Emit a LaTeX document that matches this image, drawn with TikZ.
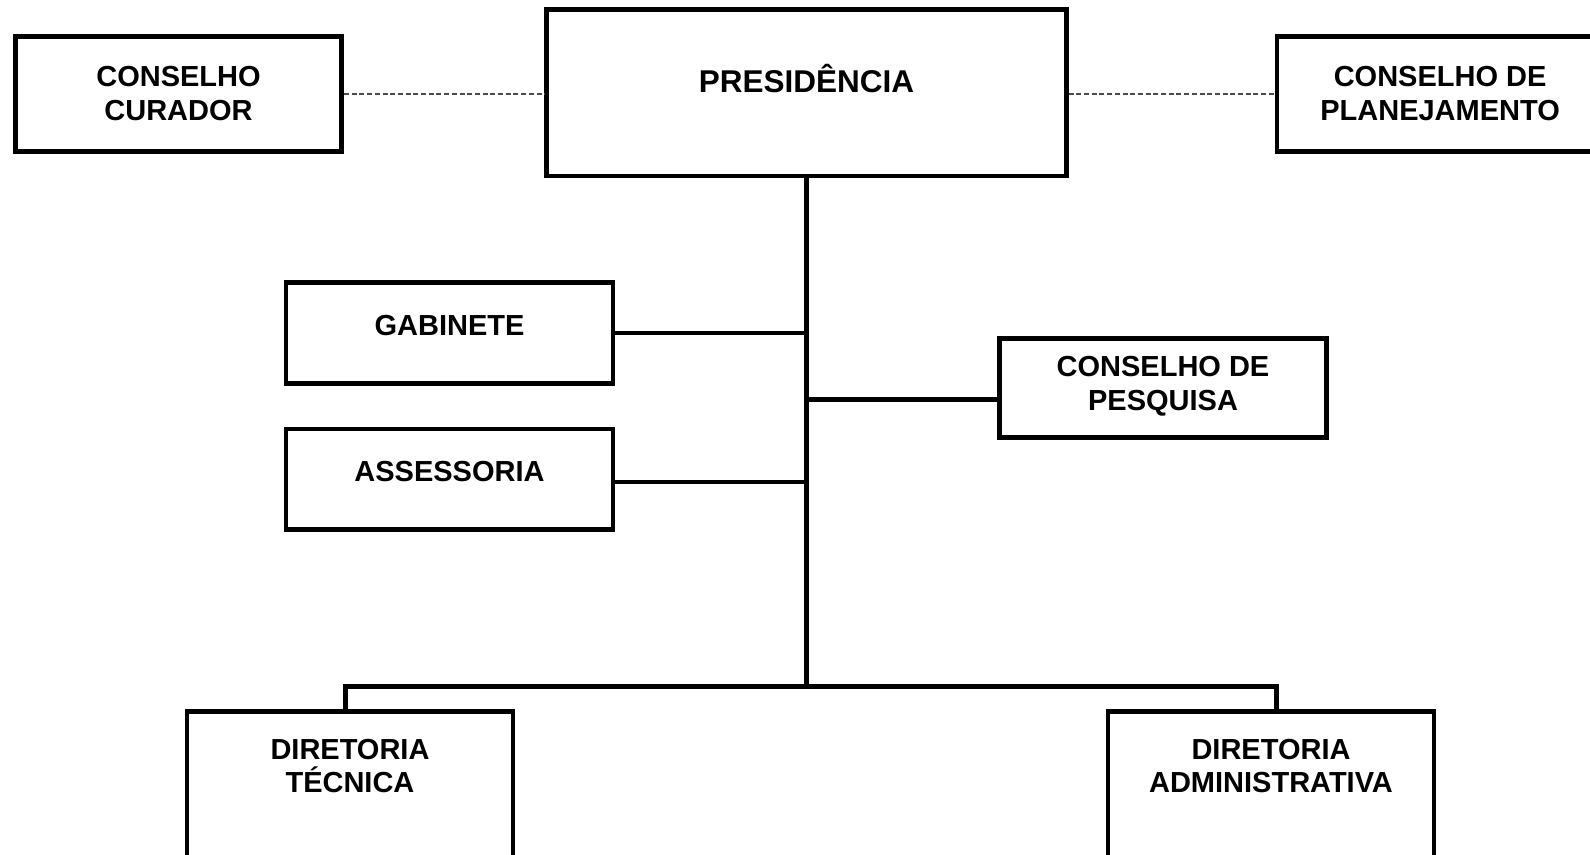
\documentclass[tikz,border=0pt]{standalone}
\usepackage{fontspec}
\setmainfont{Liberation Sans}
\newcommand{\twoline}[2]{\vtop{\halign{\hfil##\hfil\cr #1\cr #2\cr}}}
\begin{document}
\begin{tikzpicture}[x=1pt,y=-1pt,
  box/.style={draw=black, line width=4.8pt, inner sep=0pt, fill=white},
  conn/.style={draw=black, line width=4.6pt},
  dashline/.style={draw=black!70, line width=1.4pt, dash pattern=on 5pt off 2.7pt},
  lbl/.style={font=\fontsize{29}{33.6}\selectfont\bfseries, inner sep=0pt, anchor=base, text=black},
  biglbl/.style={font=\fontsize{31.5}{36}\selectfont\bfseries, inner sep=0pt, anchor=base, text=black}]
\useasboundingbox (0,0) rectangle (1590,854);
\fill[white] (0,0) rectangle (1590,854);
\clip (0,0) rectangle (1590,854);

% boxes
\node[box, minimum width=326.2pt, minimum height=114.8pt] (cur) at (178.5,94.1) {};
\node[box, minimum width=519.4pt, minimum height=166.7pt] (pres) at (806.5,92.65) {};
\node[box, minimum width=326.2pt, minimum height=114.8pt] (plan) at (1440.1,94.1) {};
\node[box, minimum width=327pt, minimum height=100.6pt] (gab) at (449.5,333) {};
\node[box, minimum width=327pt, minimum height=100.3pt] (ass) at (449.5,479.2) {};
\node[box, minimum width=326.8pt, minimum height=99pt] (pes) at (1163,388) {};
\node[box, minimum width=326pt, minimum height=188.3pt] (dt) at (350,805.85) {};
\node[box, minimum width=326pt, minimum height=188.3pt] (da) at (1271,805.85) {};

% labels
\node[lbl] (curt) at (178.5,86.4) {\twoline{CONSELHO}{CURADOR}};
\node[biglbl] (prest) at (806.5,92.3) {PRESIDÊNCIA};
\node[lbl] (plant) at (1440.1,86.4) {\twoline{CONSELHO DE}{PLANEJAMENTO}};
\node[lbl] (gabt) at (449.5,335.3) {GABINETE};
\node[lbl] (asst) at (449.5,481.3) {ASSESSORIA};
\node[lbl] (pest) at (1163,376.5) {\twoline{CONSELHO DE}{PESQUISA}};
\node[lbl] (dtt) at (350,759) {\twoline{DIRETORIA}{TÉCNICA}};
\node[lbl] (dat) at (1271,759) {\twoline{DIRETORIA}{ADMINISTRATIVA}};

% junction coordinates
\coordinate (barc) at (806.4,686.7);
\coordinate (dtj) at (345.7,686.7);
\coordinate (daj) at (1276.7,686.7);
\coordinate (ay) at (0,482);
\coordinate (py) at (0,399.3);

% connectors
\draw[dashline] (cur.east) -- (cur.east -| pres.west);
\draw[dashline] (pres.east |- plan.west) -- (plan.west);
\draw[conn] (barc |- pres.south) -- (barc);
\draw[conn] (gab.east) -- (gab.east -| barc);
\draw[conn] (ass.east |- ay) -- (barc |- ay);
\draw[conn] (pes.west |- py) -- (barc |- py);
\draw[conn] (dt.north -| dtj) -- (dtj) -- (daj) -- (da.north -| daj);
\end{tikzpicture}
\end{document}
